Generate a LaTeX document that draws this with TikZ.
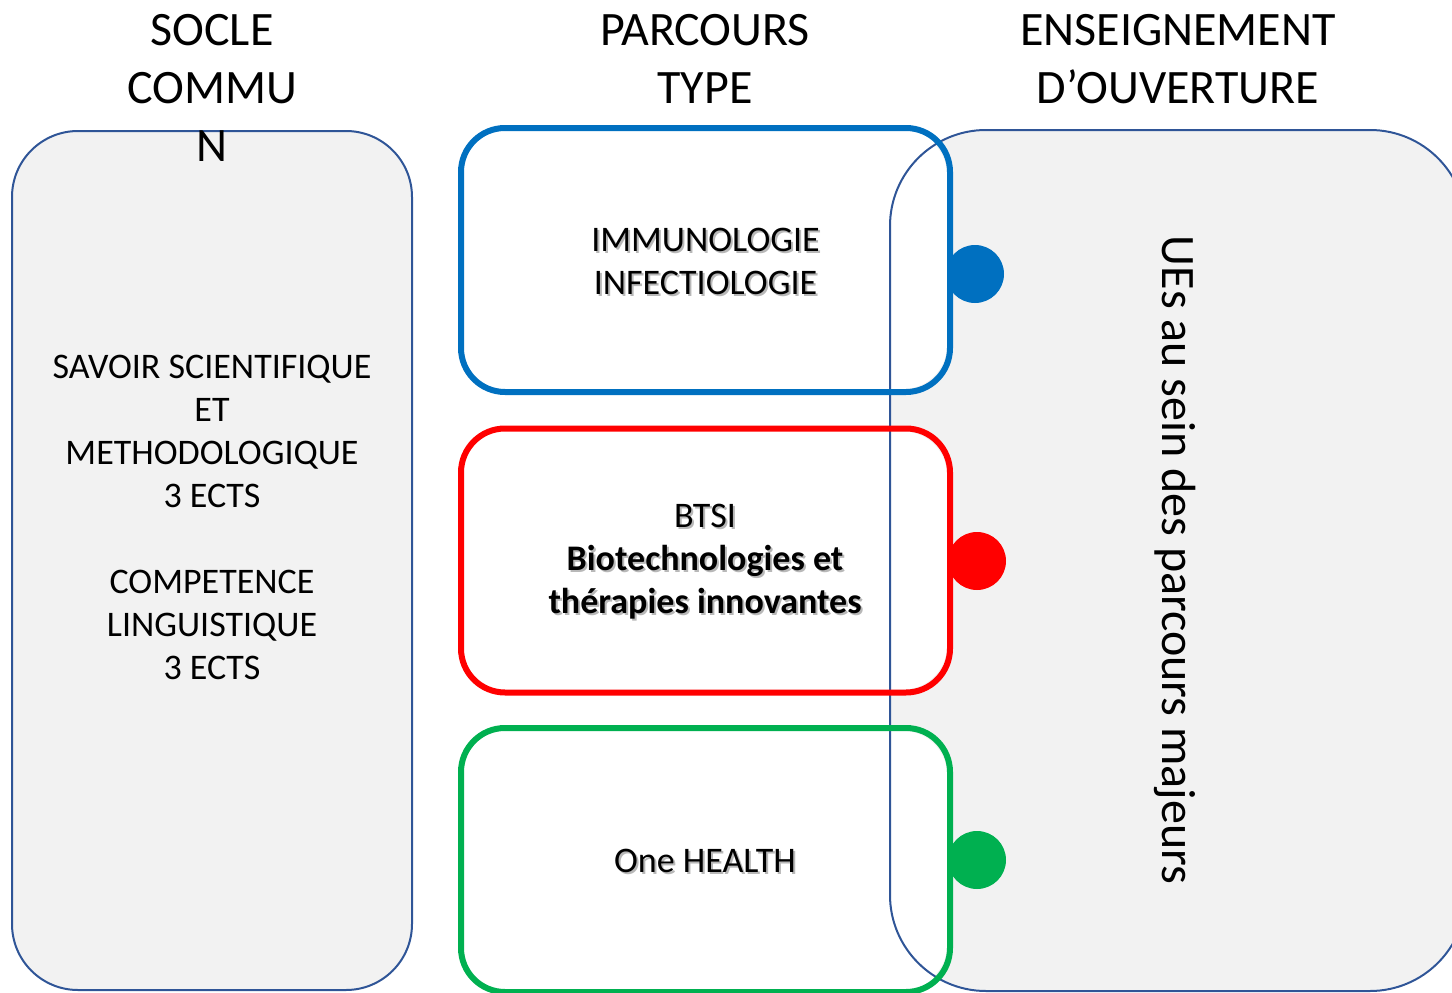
\documentclass[tikz,border=0pt]{standalone}
\usepackage{fontspec}
\setmainfont{Carlito}
\definecolor{boxfill}{HTML}{F2F2F2}
\definecolor{boxline}{HTML}{2F5597}
\definecolor{cblue}{HTML}{0070C0}
\definecolor{cred}{HTML}{FF0000}
\definecolor{cgreen}{HTML}{00B050}
\tikzset{
  header/.style={align=center, font=\fontsize{48}{58}\selectfont, inner sep=0pt},
  body/.style={align=center, font=\fontsize{36}{43}\selectfont, inner sep=0pt},
  shadowtext/.style={body, text=black, opacity=0.28},
  greybox/.style={rectangle, fill=boxfill, draw=boxline, line width=2pt, inner sep=0pt},
  parcbox/.style={rectangle, fill=white, line width=6pt, rounded corners=44pt,
    minimum width=483pt, minimum height=258pt, inner sep=0pt},
  dotmark/.style={circle, inner sep=0pt, minimum size=58pt},
}
\begin{document}
\begin{tikzpicture}[x=1pt,y=-1pt]
\useasboundingbox (0,0) rectangle (1452,993);
\clip (0,0) rectangle (1452,993);
% grey boxes
\node[greybox, rounded corners=66pt, minimum width=400pt, minimum height=859pt] (socle) at (212,560.5) {};
\node[greybox, draw=none, rounded corners=96pt, minimum width=574pt, minimum height=859pt] (ouv) at (1178,560.5) {};
% dots
\node[dotmark, fill=cblue] (d1) at (975,274) {};
\node[dotmark, fill=cred] (d2) at (977,561) {};
\node[dotmark, fill=cgreen] (d3) at (977,860) {};
% parcours boxes (fill)
\node[parcbox] (p1) at (705.5,260) {};
\node[parcbox] (p2) at (705.5,560.5) {};
\node[parcbox] (p3) at (705.5,860) {};
% outline of right box on top of the white fills
\draw[boxline, line width=2pt, rounded corners=96pt] (ouv.north west) rectangle (ouv.south east);
% parcours box outlines
\draw[cblue, line width=6pt, rounded corners=44pt] (p1.north west) rectangle (p1.south east);
\draw[cred, line width=6pt, rounded corners=44pt] (p2.north west) rectangle (p2.south east);
\draw[cgreen, line width=6pt, rounded corners=44pt] (p3.north west) rectangle (p3.south east);
% headers
\node[header] (h1) at (212,88) {SOCLE\\COMMU\\N};
\node[header] (h2) at (705,59) {PARCOURS\\TYPE};
\node[header] (h3) at (1178,59) {ENSEIGNEMENT\\D’OUVERTURE};
% texts
\node[body] (t1) at (212,517.5) {SAVOIR SCIENTIFIQUE\\ET\\METHODOLOGIQUE\\3 ECTS\\[43pt]COMPETENCE\\LINGUISTIQUE\\3 ECTS};
\node[shadowtext] (s2) at (707.5,263.5) {IMMUNOLOGIE\\INFECTIOLOGIE};
\node[body] (t2) at (705.5,261.5) {IMMUNOLOGIE\\INFECTIOLOGIE};
\node[shadowtext] (s3) at (707,564) {BTSI\\\textbf{Biotechnologies et}\\\textbf{thérapies innovantes}};
\node[body] (t3) at (705,562) {BTSI\\\textbf{Biotechnologies et}\\\textbf{thérapies innovantes}};
\node[shadowtext] (s4) at (707,863) {One HEALTH};
\node[body] (t4) at (705,861) {One HEALTH};
\node[font=\fontsize{48}{56}\selectfont, rotate=-90, inner sep=0pt] (t5) at (1175,560) {UEs au sein des parcours majeurs};
\end{tikzpicture}
\end{document}
